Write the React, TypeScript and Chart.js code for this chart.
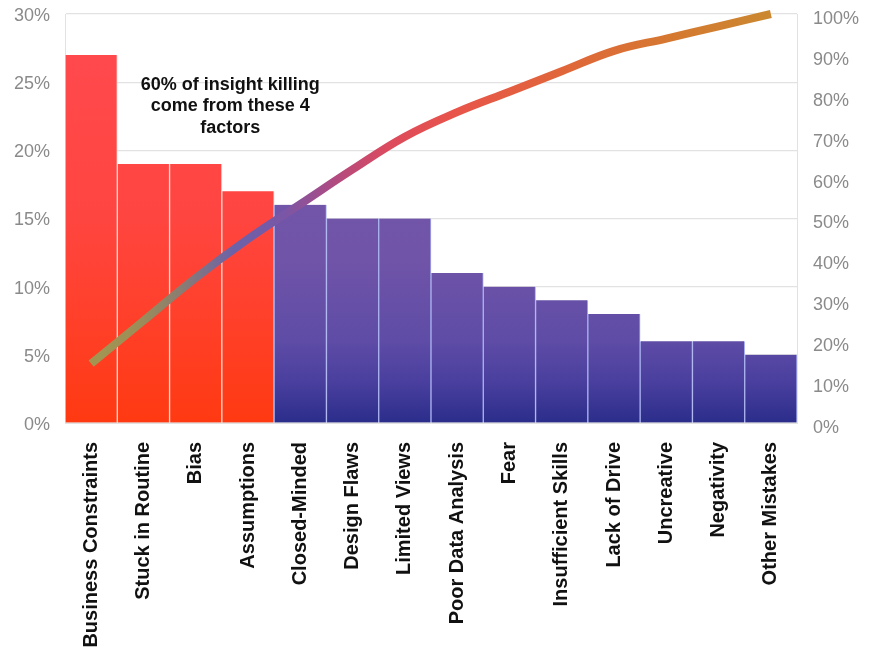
import React, { useEffect, useRef } from "react";
import { Chart, registerables } from "chart.js";

Chart.register(...registerables);

const categories = [
  "Business Constraints",
  "Stuck in Routine",
  "Bias",
  "Assumptions",
  "Closed-Minded",
  "Design Flaws",
  "Limited Views",
  "Poor Data Analysis",
  "Fear",
  "Insufficient Skills",
  "Lack of Drive",
  "Uncreative",
  "Negativity",
  "Other Mistakes",
];

const shareValues = [27, 19, 19, 17, 16, 15, 15, 11, 10, 9, 8, 6, 6, 5];
const cumulativeValues = [14.5, 25, 35.5, 45, 53.5, 62, 70, 76, 81, 86, 91, 94, 97, 100];
const highlightCount = 4;
const annotationLines = ["60% of insight killing", "come from these 4", "factors"];

const leftTicks = [0, 5, 10, 15, 20, 25, 30];
const rightTicks = [0, 10, 20, 30, 40, 50, 60, 70, 80, 90, 100];

const annotationPlugin = {
  id: "annotationText",
  afterDraw(chart: any) {
    const { ctx, scales } = chart;
    const xs = scales.x;
    const ys = scales.y;
    const x0 = xs.getPixelForValue(2);
    const x1 = xs.getPixelForValue(3);
    const cx = x0 + (x1 - x0) * 0.66;
    const cy = ys.getPixelForValue(24.8);
    ctx.save();
    ctx.font = "bold 18px 'Liberation Sans', Arial, sans-serif";
    ctx.fillStyle = "#111111";
    ctx.textAlign = "center";
    ctx.textBaseline = "middle";
    annotationLines.forEach((t, i) => ctx.fillText(t, cx, cy + i * 21.5));
    ctx.restore();
  },
};

export default function App() {
  const ref = useRef<HTMLCanvasElement>(null);

  useEffect(() => {
    document.body.style.margin = "0";
    const canvas = ref.current!;
    let redGrad: any = null;
    let purpleGrad: any = null;
    let lineGrad: any = null;

    const makeGrads = (chart: any) => {
      const area = chart.chartArea;
      if (!area) return;
      const c = chart.ctx;
      redGrad = c.createLinearGradient(0, area.top, 0, area.bottom);
      redGrad.addColorStop(0, "#ff4a50");
      redGrad.addColorStop(0.5, "#ff4540");
      redGrad.addColorStop(1, "#ff3a12");
      purpleGrad = c.createLinearGradient(0, area.top, 0, area.bottom);
      purpleGrad.addColorStop(0, "#7658a8");
      purpleGrad.addColorStop(0.6, "#7054a8");
      purpleGrad.addColorStop(0.8, "#5e4ca6");
      purpleGrad.addColorStop(0.9, "#4a3f9e");
      purpleGrad.addColorStop(1, "#2b2d8a");
      lineGrad = c.createLinearGradient(area.left, 0, area.right, 0);
      lineGrad.addColorStop(0.0, "#a89a4c");
      lineGrad.addColorStop(0.1, "#9c8e58");
      lineGrad.addColorStop(0.16, "#8a7c72");
      lineGrad.addColorStop(0.23, "#6c62a8");
      lineGrad.addColorStop(0.3, "#7a56a6");
      lineGrad.addColorStop(0.37, "#b24a80");
      lineGrad.addColorStop(0.44, "#dc4a5e");
      lineGrad.addColorStop(0.53, "#e8544a");
      lineGrad.addColorStop(0.68, "#e0663a");
      lineGrad.addColorStop(0.84, "#d47a30");
      lineGrad.addColorStop(1.0, "#c88c30");
    };

    const noPad = (s: any) => {
      s.paddingTop = 0;
      s.paddingBottom = 0;
    };

    const chart = new Chart(canvas, {
      type: "bar",
      data: {
        labels: categories,
        datasets: [
          {
            type: "line",
            data: cumulativeValues,
            yAxisID: "y1",
            order: 0,
            borderWidth: 8,
            pointRadius: 0,
            tension: 0.4,
            clip: false as any,
            borderCapStyle: "butt",
            borderColor: (ctx: any) => {
              if (!lineGrad) makeGrads(ctx.chart);
              return lineGrad || "#d06040";
            },
          } as any,
          {
            type: "bar",
            data: shareValues,
            yAxisID: "y",
            order: 1,
            categoryPercentage: 1,
            barPercentage: 1,
            borderWidth: { left: 1, right: 1, top: 0, bottom: 0 },
            borderSkipped: false,
            borderColor: (ctx: any) => (ctx.dataIndex < highlightCount ? "#ffd2ca" : "#aab2f0"),
            backgroundColor: (ctx: any) => {
              if (!redGrad) makeGrads(ctx.chart);
              if (ctx.dataIndex < highlightCount) return redGrad || "#ff4040";
              return purpleGrad || "#6a52a6";
            },
          } as any,
        ],
      },
      options: {
        animation: false,
        responsive: true,
        maintainAspectRatio: false,
        layout: { padding: { top: 14, left: 0, right: 0, bottom: 0 } },
        plugins: { legend: { display: false }, tooltip: { enabled: false } },
        scales: {
          x: {
            grid: { display: false, drawTicks: false },
            border: { display: true, color: "#e2e2e2" },
            ticks: {
              autoSkip: false,
              minRotation: 90,
              maxRotation: 90,
              padding: 19,
              color: "#111111",
              font: { family: "'Liberation Sans', Arial, sans-serif", size: 20, weight: "bold" },
            },
            afterFit: (s: any) => {
              s.height = 228;
              s.paddingLeft = 0;
              s.paddingRight = 0;
            },
          },
          y: {
            position: "left",
            min: 0,
            max: 30,
            afterBuildTicks: (s: any) => {
              s.ticks = leftTicks.map((v) => ({ value: v }));
            },
            grid: { color: "#e2e2e2", drawTicks: false, lineWidth: 1.2 },
            border: { display: true, color: "#e2e2e2" },
            ticks: {
              padding: 15,
              labelOffset: 2,
              color: "#8a8a8a",
              font: { family: "'Liberation Sans', Arial, sans-serif", size: 18 },
              callback: (v: any) => `${v}%`,
            },
            afterFit: (s: any) => {
              s.width = 65;
              noPad(s);
            },
          },
          y1: {
            position: "right",
            min: 0,
            max: 100,
            afterBuildTicks: (s: any) => {
              s.ticks = rightTicks.map((v) => ({ value: v }));
            },
            grid: { display: false, drawTicks: false },
            border: { display: true, color: "#e2e2e2" },
            ticks: {
              padding: 16,
              labelOffset: 5,
              color: "#8a8a8a",
              font: { family: "'Liberation Sans', Arial, sans-serif", size: 18 },
              callback: (v: any) => `${v}%`,
            },
            afterFit: (s: any) => {
              s.width = 74;
              noPad(s);
            },
          },
        },
      } as any,
      plugins: [annotationPlugin],
    });

    return () => chart.destroy();
  }, []);

  return (
    <div style={{ position: "fixed", left: 0, top: 0, width: 871, height: 651, background: "#ffffff" }}>
      <canvas ref={ref} />
    </div>
  );
}
